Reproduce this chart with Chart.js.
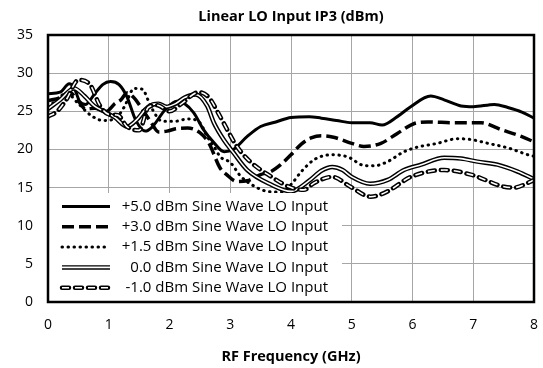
<!DOCTYPE html>
<html>
<head>
<meta charset="utf-8">
<script src="https://cdn.jsdelivr.net/npm/chart.js@4.4.1/dist/chart.umd.min.js"></script>
<style>
  html, body { margin: 0; padding: 0; background: #fff; }
  #wrap { width: 543px; height: 368px; }
</style>
</head>
<body>
<div id="wrap"><canvas id="c" width="543" height="368"></canvas></div>
<script>
// ---- data ----
const chartTitle = 'Linear LO Input IP3 (dBm)';
const xTitle = 'RF Frequency (GHz)';
const seriesLabels = [
  '+5.0 dBm Sine Wave LO Input',
  '+3.0 dBm Sine Wave LO Input',
  '+1.5 dBm Sine Wave LO Input',
  '0.0 dBm Sine Wave LO Input',
  '-1.0 dBm Sine Wave LO Input'
];
const xTicks = [0, 1, 2, 3, 4, 5, 6, 7, 8];
const yTicks = [0, 5, 10, 15, 20, 25, 30, 35];

// +5.0 dBm
const freqA = [0, 0.2, 0.35, 0.43, 0.52, 0.62, 0.76, 0.9, 1.03, 1.17, 1.3, 1.44, 1.6, 1.71, 1.93, 2.12, 2.25, 2.4, 2.56, 2.73, 2.9, 3.05, 3.28, 3.5, 3.75, 4.0, 4.3, 4.5, 4.75, 5.0, 5.3, 5.5, 5.75, 5.97, 6.3, 6.52, 6.8, 7.0, 7.35, 7.57, 7.8, 8.0];
const ipA   = [27.3, 27.5, 28.6, 28.1, 26.3, 25.9, 27.2, 28.5, 28.9, 28.5, 26.9, 23.9, 22.4, 22.9, 25.2, 26.3, 26.0, 24.8, 22.6, 20.9, 19.7, 20.0, 21.7, 23.0, 23.6, 24.2, 24.3, 24.1, 23.8, 23.5, 23.5, 23.2, 24.3, 25.6, 27.0, 26.5, 25.7, 25.6, 25.9, 25.5, 24.9, 24.1];
// +3.0 dBm
const freqB = [0, 0.2, 0.35, 0.5, 0.62, 0.77, 0.96, 1.1, 1.2, 1.3, 1.4, 1.55, 1.7, 1.82, 1.96, 2.1, 2.3, 2.5, 2.65, 2.83, 2.94, 3.11, 3.28, 3.5, 3.67, 3.83, 4.0, 4.17, 4.33, 4.5, 4.7, 5.0, 5.2, 5.48, 5.75, 6.03, 6.25, 6.69, 7.13, 7.46, 7.79, 8.0];
const ipB   = [26.4, 26.8, 27.5, 26.3, 25.3, 25.4, 25.0, 26.0, 26.5, 27.4, 26.9, 25.3, 23.5, 22.3, 22.4, 22.7, 22.8, 22.2, 20.8, 17.6, 16.7, 15.8, 15.9, 16.7, 17.1, 18.0, 19.3, 20.7, 21.5, 21.8, 21.6, 20.8, 20.4, 20.8, 22.1, 23.4, 23.6, 23.5, 23.5, 22.6, 21.7, 21.0];
// +1.5 dBm
const freqC = [0, 0.15, 0.3, 0.5, 0.7, 0.9, 1.1, 1.25, 1.42, 1.55, 1.7, 1.88, 2.1, 2.3, 2.5, 2.62, 2.73, 2.84, 3.0, 3.17, 3.39, 3.61, 3.83, 4.0, 4.17, 4.39, 4.67, 4.94, 5.2, 5.37, 5.59, 5.86, 6.08, 6.41, 6.74, 6.96, 7.24, 7.57, 7.9, 8.0];
const ipC   = [25.6, 26.5, 27.4, 26.0, 24.5, 23.8, 24.0, 25.5, 28.0, 27.9, 25.5, 23.7, 23.7, 24.0, 23.5, 21.7, 20.4, 19.0, 18.3, 16.5, 15.2, 14.5, 14.4, 15.4, 17.1, 18.7, 19.3, 19.0, 17.9, 17.85, 18.4, 19.7, 20.3, 20.8, 21.4, 21.3, 20.8, 20.2, 19.3, 19.1];
// 0.0 dBm
const freqD = [0, 0.2, 0.43, 0.6, 0.76, 0.92, 1.1, 1.3, 1.45, 1.65, 1.82, 1.95, 2.1, 2.25, 2.43, 2.62, 2.73, 2.89, 3.05, 3.28, 3.67, 4.0, 4.3, 4.5, 4.68, 4.85, 5.0, 5.3, 5.59, 5.86, 6.14, 6.52, 6.8, 7.07, 7.4, 7.73, 8.0];
const ipD   = [25.3, 26.5, 28.0, 27.0, 25.7, 25.0, 24.2, 23.0, 23.8, 25.6, 26.0, 25.6, 26.0, 26.8, 27.2, 25.7, 23.5, 21.3, 19.6, 17.3, 15.4, 14.5, 15.9, 17.2, 17.7, 17.3, 16.4, 15.5, 16.0, 17.3, 18.0, 18.9, 18.8, 18.4, 18.0, 17.1, 16.1];
// -1.0 dBm
const freqE = [0, 0.15, 0.3, 0.5, 0.7, 0.85, 1.0, 1.15, 1.3, 1.5, 1.65, 1.8, 2.0, 2.2, 2.48, 2.65, 2.8, 2.95, 3.1, 3.3, 3.66, 4.0, 4.21, 4.38, 4.68, 4.98, 5.31, 5.59, 5.97, 6.52, 6.96, 7.51, 7.67, 7.95, 8.0];
const ipE   = [24.3, 25.0, 26.5, 29.1, 28.4, 25.8, 24.6, 24.5, 23.0, 22.5, 25.5, 25.8, 25.0, 26.0, 27.5, 26.8, 24.8, 22.6, 20.5, 18.6, 16.5, 15.0, 14.7, 15.6, 16.4, 15.1, 13.8, 14.5, 16.4, 17.3, 16.7, 15.1, 15.0, 15.8, 16.0];

// ---- build ----
const pts = (xs, ys) => xs.map((x, i) => ({ x: x, y: ys[i] }));
const FONT = '"Open Sans", Lato, sans-serif';

const styles = [
  { color: '#000', width: 3, dash: [], cap: 'butt' },
  { color: '#000', width: 3.5, dash: [12, 5], cap: 'butt' },
  { color: '#000', width: 3, dash: [0.5, 5.5], cap: 'round' },
  { color: '#000', width: 4.5, dash: [], cap: 'butt', inner: 1.6 },
  { color: '#000', width: 4.5, dash: [7, 6], cap: 'round', inner: 1.6 }
];
const series = [pts(freqA, ipA), pts(freqB, ipB), pts(freqC, ipC), pts(freqD, ipD), pts(freqE, ipE)];

const datasets = [];
series.forEach((data, i) => {
  const s = styles[i];
  datasets.push({
    label: seriesLabels[i], data: data,
    borderColor: s.color, borderWidth: s.width, borderDash: s.dash,
    borderCapStyle: s.cap, pointRadius: 0, fill: false,
    cubicInterpolationMode: 'monotone', order: 20 - 2 * i
  });
  if (s.inner) {
    datasets.push({
      label: seriesLabels[i] + ' (inner)', data: data,
      borderColor: '#fff', borderWidth: s.inner, borderDash: s.dash,
      borderCapStyle: 'butt', pointRadius: 0, fill: false,
      cubicInterpolationMode: 'monotone', order: 19 - 2 * i
    });
  }
});

const legendAndFrame = {
  id: 'legendAndFrame',
  afterDatasetsDraw(chart) {
    const ctx = chart.ctx, a = chart.chartArea;
    ctx.save();
    // legend box
    const bx = a.left, by = 193, bw = 342 - a.left, bh = a.bottom - by;
    ctx.fillStyle = '#fff';
    ctx.fillRect(bx, by, bw, bh);
    const rowY0 = 206.5, rowStep = 20.3;
    const x1 = 62, x2 = 110, textRight = 328;
    styles.forEach((s, i) => {
      const y = rowY0 + i * rowStep;
      ctx.setLineDash(s.dash);
      ctx.lineCap = s.cap;
      ctx.lineWidth = s.width;
      ctx.strokeStyle = s.color;
      ctx.beginPath(); ctx.moveTo(x1, y); ctx.lineTo(x2, y); ctx.stroke();
      if (s.inner) {
        ctx.lineCap = 'butt';
        ctx.lineWidth = s.inner;
        ctx.strokeStyle = '#fff';
        ctx.beginPath(); ctx.moveTo(x1, y); ctx.lineTo(x2, y); ctx.stroke();
      }
      ctx.setLineDash([]);
      ctx.fillStyle = '#000';
      ctx.font = '15px ' + FONT;
      ctx.textAlign = 'right';
      ctx.textBaseline = 'middle';
      ctx.fillText(seriesLabels[i], textRight, y);
    });
    // plot frame
    ctx.setLineDash([]);
    ctx.lineWidth = 2.5;
    ctx.strokeStyle = '#000';
    ctx.strokeRect(a.left, a.top, a.right - a.left, a.bottom - a.top);
    // chart title, centred over the plot area
    ctx.fillStyle = '#000';
    ctx.font = 'bold 14.5px ' + FONT;
    ctx.textAlign = 'center';
    ctx.textBaseline = 'middle';
    ctx.fillText(chartTitle, (a.left + a.right) / 2, 17);
    ctx.restore();
  }
};

new Chart(document.getElementById('c'), {
  type: 'line',
  data: { datasets: datasets },
  options: {
    responsive: false,
    animation: false,
    events: [],
    layout: { padding: { left: 0, right: 9, top: 35, bottom: 0 } },
    plugins: {
      legend: { display: false },
      tooltip: { enabled: false },
      title: { display: false }
    },
    scales: {
      x: {
        type: 'linear', min: xTicks[0], max: xTicks[xTicks.length - 1],
        afterBuildTicks: (sc) => { sc.ticks = xTicks.map(v => ({ value: v })); },
        afterFit: (sc) => { sc.height = 66; sc.paddingLeft = 0; sc.paddingRight = 0; },
        grid: { color: '#a6a6a6', lineWidth: 1, drawTicks: false },
        border: { display: false },
        ticks: { color: '#000', font: { family: FONT, size: 14 }, padding: 15, maxRotation: 0 },
        title: { display: true, text: xTitle, color: '#000',
          font: { family: FONT, size: 14.5, weight: 'bold' }, padding: { top: 0, bottom: 2 } }
      },
      y: {
        type: 'linear', min: yTicks[0], max: yTicks[yTicks.length - 1],
        afterBuildTicks: (sc) => { sc.ticks = yTicks.map(v => ({ value: v })); },
        afterFit: (sc) => { sc.width = 48; sc.paddingTop = 0; sc.paddingBottom = 0; },
        grid: { color: '#a6a6a6', lineWidth: 1, drawTicks: false },
        border: { display: false },
        ticks: { color: '#000', font: { family: FONT, size: 14 }, padding: 15 }
      }
    }
  },
  plugins: [legendAndFrame]
});
</script>
</body>
</html>
